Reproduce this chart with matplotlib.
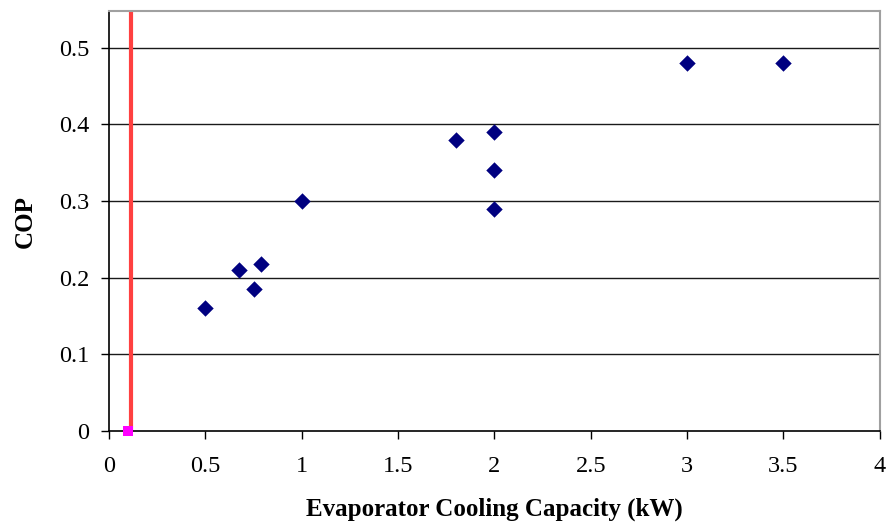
import matplotlib.pyplot as plt
import numpy as np

# cooling capacity (kW) vs COP
capacity = [0.5, 0.674, 0.752, 0.789, 1.0, 1.8, 2.0, 2.0, 2.0, 3.0, 3.5]
cop = [0.16, 0.21, 0.185, 0.218, 0.30, 0.38, 0.39, 0.34, 0.29, 0.48, 0.48]

# reference marker and vertical line
ref_x = [0.1]
ref_y = [0.0]
line_x = 0.114

xticks = [0, 0.5, 1, 1.5, 2, 2.5, 3, 3.5, 4]
yticks = [0, 0.1, 0.2, 0.3, 0.4, 0.5]

plt.rcParams['font.family'] = ['Liberation Serif', 'DejaVu Serif']

fig = plt.figure(figsize=(8.86, 5.25), dpi=100)
ax = fig.add_axes([0.123, 0.179, 0.870, 0.800])

ax.set_xlim(0, 4)
ax.set_ylim(0, 0.548)

for y in yticks[1:]:
    ax.axhline(y, color='#1a1a1a', lw=1.0, zorder=1)

ax.plot([line_x, line_x], [0, 0.548], color='#ff4040', lw=3, zorder=2, solid_capstyle='butt')
ax.scatter(capacity, cop, marker='D', s=70, color='#000080', zorder=3, linewidths=0)
ax.scatter(ref_x, ref_y, marker='s', s=48, color='#ff00ff', zorder=4, linewidths=0, clip_on=False)

ax.set_xticks(xticks)
ax.set_xticklabels(['0', '0.5', '1', '1.5', '2', '2.5', '3', '3.5', '4'])
ax.set_yticks(yticks)
ax.set_yticklabels(['0', '0.1', '0.2', '0.3', '0.4', '0.5'])
ax.tick_params(axis='both', direction='out', length=6, width=1, labelsize=17.5, color='black')
ax.tick_params(axis='x', pad=12)
ax.tick_params(axis='y', pad=8)

for side in ['left', 'bottom']:
    ax.spines[side].set_color('black')
    ax.spines[side].set_linewidth(1.2)
for side in ['top', 'right']:
    ax.spines[side].set_color('#a0a0a0')
    ax.spines[side].set_linewidth(1.5)

ax.set_xlabel('Evaporator Cooling Capacity (kW)', fontsize=18, fontweight='bold', labelpad=15)
ax.set_ylabel('COP', fontsize=18, fontweight='bold', labelpad=16)

fig.savefig('out.png', dpi=100)
